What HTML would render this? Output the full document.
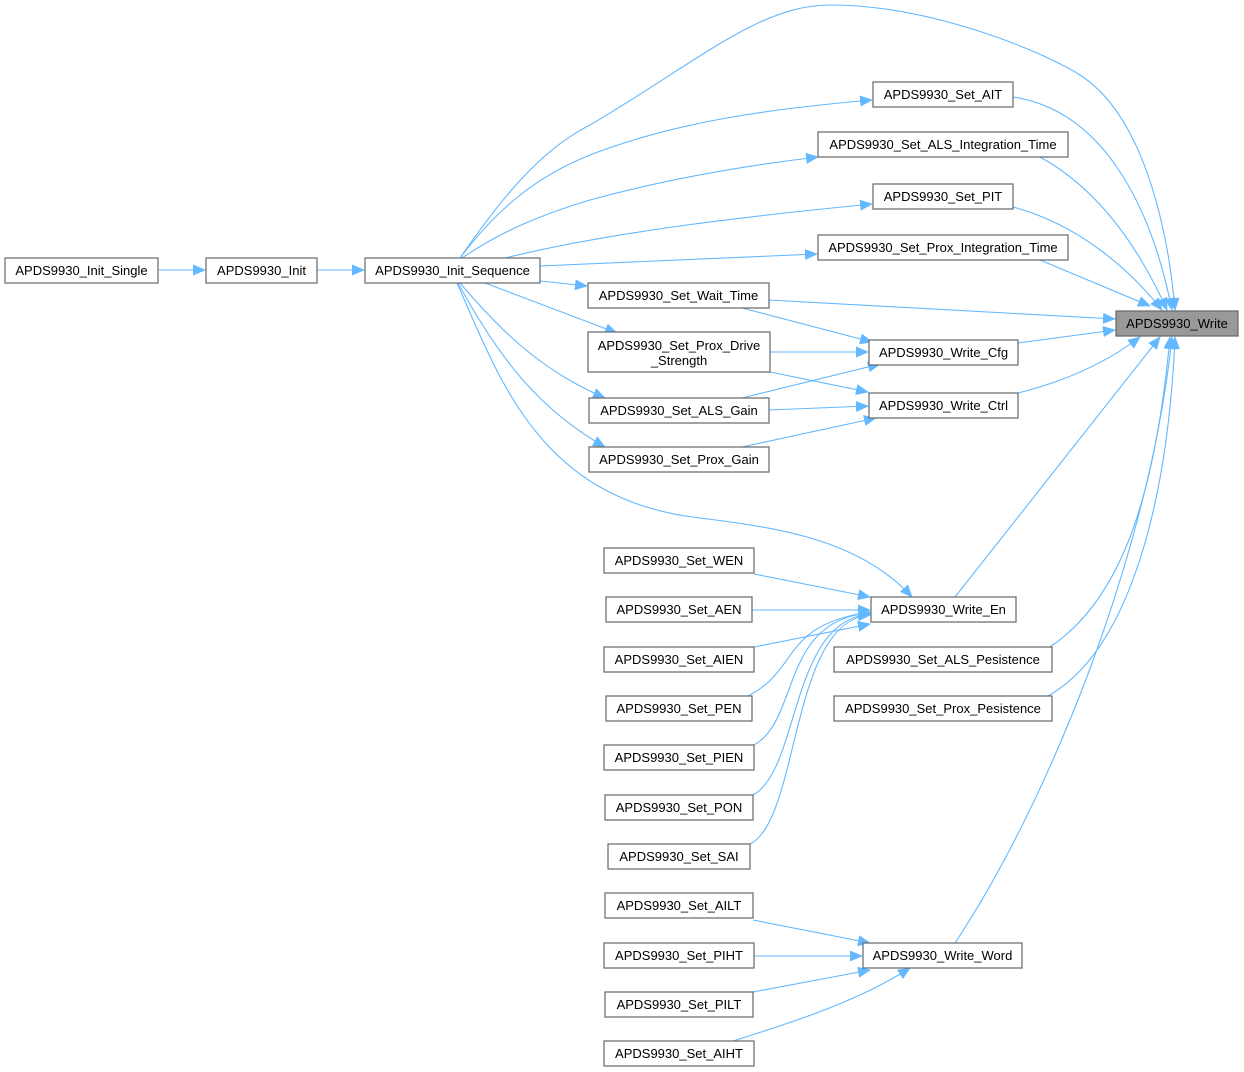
<!DOCTYPE html>
<html><head><meta charset="utf-8"><style>
html,body{margin:0;padding:0;background:#fff;}
svg{display:block;}
text{font-family:"Liberation Sans",Arial,sans-serif;font-size:13px;fill:#000;}
.b{fill:#fff;stroke:#666;stroke-width:1.2;}
.e{fill:none;stroke:#63b8ff;stroke-width:1.1;}
</style></head><body>
<svg width="1244" height="1072" viewBox="0 0 1244 1072" xmlns="http://www.w3.org/2000/svg">
<defs><marker id="a" markerWidth="13" markerHeight="11" refX="12" refY="5.5" orient="auto" markerUnits="userSpaceOnUse"><path d="M0,0 L13,5.5 L0,11 z" fill="#63b8ff"/></marker></defs>
<g class="e" marker-end="url(#a)">
<path d="M159,270 L205,270"/>
<path d="M317,270 L364,270"/>
<path d="M460,258 C500,200 540,150 590,125 C700,60 760,5 830,5 C930,5 1040,50 1080,75 C1150,120 1170,250 1175,310"/>
<path d="M460,258 C500,205 540,175 590,155 C680,120 780,108 872,100"/>
<path d="M462,258 C500,232 540,215 590,200 C670,178 750,165 818,157"/>
<path d="M505,258 C620,230 760,215 872,204"/>
<path d="M540,266 L817,254"/>
<path d="M540,281 L587,286"/>
<path d="M485,283 L617,333"/>
<path d="M460,283 C500,330 540,370 605,398"/>
<path d="M458,283 C500,360 540,410 605,447"/>
<path d="M457,283 C500,380 540,500 700,518 C780,528 860,540 912,597"/>
<path d="M1013,97 C1100,110 1150,200 1172,310"/>
<path d="M1040,157 C1100,190 1140,250 1167,310"/>
<path d="M1013,207 C1080,225 1130,270 1162,310"/>
<path d="M1040,260 L1150,306"/>
<path d="M769,300 L1115,319"/>
<path d="M742,308 L872,342"/>
<path d="M770,352 L868,352"/>
<path d="M770,372 L868,392"/>
<path d="M742,398 L880,364"/>
<path d="M769,410 L868,406"/>
<path d="M742,447 L876,418"/>
<path d="M1018,343 L1115,330"/>
<path d="M1018,393 C1070,380 1110,360 1140,337"/>
<path d="M955,597 L1160,337"/>
<path d="M1050,647 C1120,600 1155,500 1170,337"/>
<path d="M1048,696 C1130,650 1168,500 1175,337"/>
<path d="M955,943 C1050,800 1150,550 1172,337"/>
<path d="M754,574 L870,597"/>
<path d="M752,610 L870,610"/>
<path d="M754,647 L870,624"/>
<path d="M748,696 C800,670 780,625 870,612"/>
<path d="M754,745 C800,720 780,620 870,613"/>
<path d="M753,795 C800,770 790,620 870,614"/>
<path d="M750,844 C800,820 790,620 870,615"/>
<path d="M753,920 L870,943"/>
<path d="M754,956 L862,956"/>
<path d="M753,992 L870,970"/>
<path d="M733,1041 C800,1020 860,1000 910,968"/>
</g>
<g>
<rect class="b" x="5" y="258" width="153" height="25"/><text x="81.5" y="275" text-anchor="middle">APDS9930_Init_Single</text>
<rect class="b" x="206" y="258" width="111" height="25"/><text x="261.5" y="275" text-anchor="middle">APDS9930_Init</text>
<rect class="b" x="365" y="258" width="175" height="25"/><text x="452.5" y="275" text-anchor="middle">APDS9930_Init_Sequence</text>
<rect class="b" x="873" y="82" width="140" height="25"/><text x="943" y="99" text-anchor="middle">APDS9930_Set_AIT</text>
<rect class="b" x="818" y="132" width="250" height="25"/><text x="943" y="149" text-anchor="middle">APDS9930_Set_ALS_Integration_Time</text>
<rect class="b" x="873" y="184" width="140" height="25"/><text x="943" y="201" text-anchor="middle">APDS9930_Set_PIT</text>
<rect class="b" x="818" y="235" width="250" height="25"/><text x="943" y="252" text-anchor="middle">APDS9930_Set_Prox_Integration_Time</text>
<rect class="b" x="588" y="283" width="181" height="25"/><text x="678.5" y="300" text-anchor="middle">APDS9930_Set_Wait_Time</text>
<rect x="1116" y="311" width="122" height="25" fill="#999" stroke="#666" stroke-width="1.2"/><text x="1177" y="328" text-anchor="middle">APDS9930_Write</text>
<rect class="b" x="588" y="332" width="182" height="40"/><text x="679" y="350" text-anchor="middle">APDS9930_Set_Prox_Drive</text><text x="679" y="365" text-anchor="middle">_Strength</text>
<rect class="b" x="869" y="340" width="149" height="25"/><text x="943.5" y="357" text-anchor="middle">APDS9930_Write_Cfg</text>
<rect class="b" x="589" y="398" width="180" height="25"/><text x="679" y="415" text-anchor="middle">APDS9930_Set_ALS_Gain</text>
<rect class="b" x="869" y="393" width="149" height="25"/><text x="943.5" y="410" text-anchor="middle">APDS9930_Write_Ctrl</text>
<rect class="b" x="589" y="447" width="180" height="25"/><text x="679" y="464" text-anchor="middle">APDS9930_Set_Prox_Gain</text>
<rect class="b" x="604" y="548" width="150" height="25"/><text x="679" y="565" text-anchor="middle">APDS9930_Set_WEN</text>
<rect class="b" x="871" y="597" width="145" height="25"/><text x="943.5" y="614" text-anchor="middle">APDS9930_Write_En</text>
<rect class="b" x="606" y="597" width="146" height="25"/><text x="679" y="614" text-anchor="middle">APDS9930_Set_AEN</text>
<rect class="b" x="604" y="647" width="150" height="25"/><text x="679" y="664" text-anchor="middle">APDS9930_Set_AIEN</text>
<rect class="b" x="834" y="647" width="218" height="25"/><text x="943" y="664" text-anchor="middle">APDS9930_Set_ALS_Pesistence</text>
<rect class="b" x="606" y="696" width="146" height="25"/><text x="679" y="713" text-anchor="middle">APDS9930_Set_PEN</text>
<rect class="b" x="834" y="696" width="218" height="25"/><text x="943" y="713" text-anchor="middle">APDS9930_Set_Prox_Pesistence</text>
<rect class="b" x="604" y="745" width="150" height="25"/><text x="679" y="762" text-anchor="middle">APDS9930_Set_PIEN</text>
<rect class="b" x="605" y="795" width="148" height="25"/><text x="679" y="812" text-anchor="middle">APDS9930_Set_PON</text>
<rect class="b" x="608" y="844" width="142" height="25"/><text x="679" y="861" text-anchor="middle">APDS9930_Set_SAI</text>
<rect class="b" x="605" y="893" width="148" height="25"/><text x="679" y="910" text-anchor="middle">APDS9930_Set_AILT</text>
<rect class="b" x="863" y="943" width="159" height="25"/><text x="942.5" y="960" text-anchor="middle">APDS9930_Write_Word</text>
<rect class="b" x="604" y="943" width="150" height="25"/><text x="679" y="960" text-anchor="middle">APDS9930_Set_PIHT</text>
<rect class="b" x="605" y="992" width="148" height="25"/><text x="679" y="1009" text-anchor="middle">APDS9930_Set_PILT</text>
<rect class="b" x="604" y="1041" width="150" height="25"/><text x="679" y="1058" text-anchor="middle">APDS9930_Set_AIHT</text>
</g>
</svg>
</body></html>
